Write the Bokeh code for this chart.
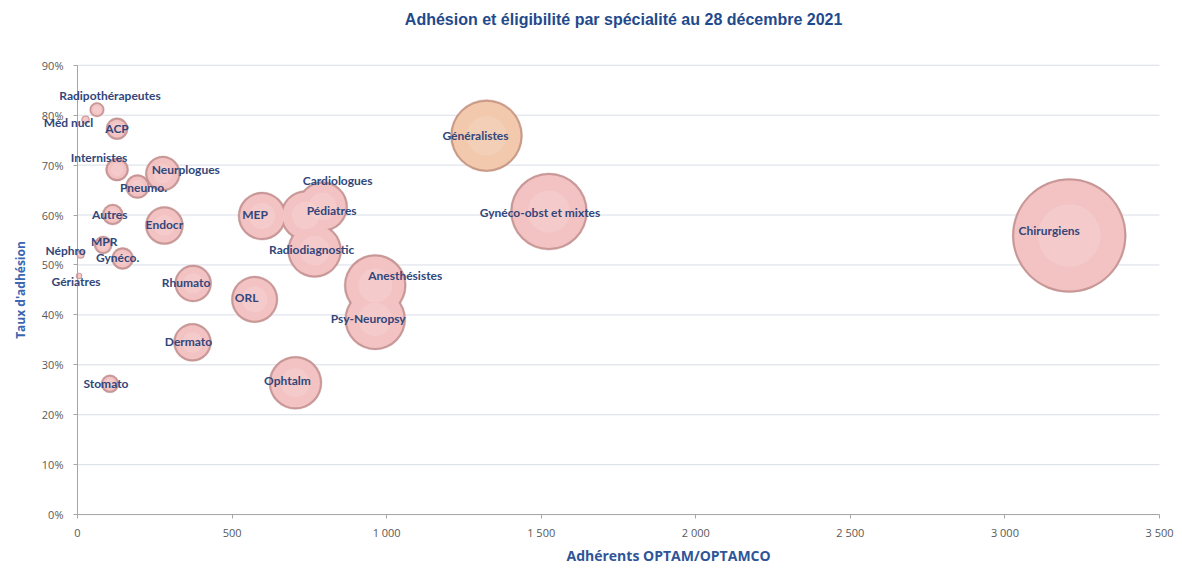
from bokeh.plotting import figure
from bokeh.models import ColumnDataSource, FixedTicker, Range1d, Title, LabelSet, Label
from bokeh.core.properties import value
from bokeh.embed import file_html
from bokeh.resources import INLINE
import math

# ---- data ----
specialites = ["Chirurgiens", "Gynéco-obst et mixtes", "Généralistes", "Anesthésistes",
               "Psy-Neuropsy", "Cardiologues", "Pédiatres", "Radiodiagnostic", "MEP", "ORL",
               "Ophtalm", "Rhumato", "Dermato", "Endocr", "Neurplogues", "Pneumo.",
               "Internistes", "Autres", "ACP", "Radipothérapeutes", "Méd nucl", "MPR",
               "Gynéco.", "Néphro", "Gériatres", "Stomato"]
adherents = [3208, 1525, 1323, 963, 963, 793, 738, 767, 597, 573,
             705, 374, 372, 281, 276, 194, 128, 114, 128, 63,
             26, 83, 146, 10, 5, 105]
taux_adhesion = [55.9, 60.7, 75.9, 45.9, 39.1, 61.7, 59.9, 52.9, 59.8, 43.1,
                 26.4, 46.3, 34.5, 57.9, 68.3, 65.7, 69.1, 60.1, 77.3, 81.1,
                 79.1, 54.0, 51.3, 52.1, 47.8, 26.2]
eligibles = [5700, 2600, 2274, 1686, 1632, 1096, 1096, 1279, 1010, 952,
             1232, 600, 633, 640, 537, 253, 232, 193, 212, 93,
             28, 142, 212, 28, 16, 142]

x_ticks = [0, 500, 1000, 1500, 2000, 2500, 3000, 3500]
x_tick_labels = ["0", "500", "1 000", "1 500", "2 000", "2 500", "3 000", "3 500"]
y_ticks = [0, 10, 20, 30, 40, 50, 60, 70, 80, 90]
y_tick_labels = ["0%", "10%", "20%", "30%", "40%", "50%", "60%", "70%", "80%", "90%"]

title_text = "Adhésion  et éligibilité  par spécialité  au 28 décembre  2021"
x_title = "Adhérents OPTAM/OPTAMCO"
y_title = "Taux d'adhésion"

# ---- layout (pixels) ----
W, H = 1174, 565
AX_LEFT, AX_RIGHT = 77, 1159      # pixel position of x = 0 and x = max
AX_TOP, AX_BOTTOM = 65, 516       # pixel position of y = max and y = 0
FRAME_BOTTOM = H - 21             # room below for the x title
TITLE_CX, TITLE_CY = 632, 21
XTITLE_LEFT = 566

# label placement (screen px offsets, y positive = down)
label_dx = [-20, -9, -11, 30, -7, 15, 26, -3, -7, -8, -8, -7, -4, 0, 23, 6, -18, -3, 0, 13, -17, 1, -5, -15, -3, -4]
label_dy = [-5, 1, 0, -10, -1, -26, -5, -1, -2, -2, -2, -1, -1, -1, -4, 1, -12, 0, 0, -14, 3, -3, -1, -4, 6, 0]

xmin, xmax = x_ticks[0], x_ticks[-1]
ymin, ymax = y_ticks[0], y_ticks[-1]
xpp = (xmax - xmin) / (AX_RIGHT - AX_LEFT)
ypp = (ymax - ymin) / (AX_BOTTOM - AX_TOP)
x_start = xmin - AX_LEFT * xpp
x_end = xmax + (W - AX_RIGHT) * xpp
y_end = ymax + AX_TOP * ypp
y_start = ymin - (FRAME_BOTTOM - AX_BOTTOM) * ypp

MAX_DIAM = 114.0
vmax = max(eligibles)
diam = [MAX_DIAM * math.sqrt(v / vmax) for v in eligibles]
edge = ["#CC9C86" if n == "Généralistes" else "#CB9898" for n in specialites]
body = ["#F3C9AE" if n == "Généralistes" else "#F3C3C3" for n in specialites]

src = ColumnDataSource(dict(
    x=adherents, y=taux_adhesion, name=specialites,
    d=diam, d_in=[max(d - 4, d * 0.78) for d in diam],
    d_hi=[d * 0.55 for d in diam],
    edge=edge, body=body, dx=label_dx, dy=[-v for v in label_dy],
))

p = figure(width=W, height=H, x_range=Range1d(x_start, x_end), y_range=Range1d(y_start, y_end),
           output_backend="svg", toolbar_location=None,
           min_border_left=0, min_border_right=0, min_border_top=0,
           min_border_bottom=H - FRAME_BOTTOM)
p.outline_line_color = None
p.background_fill_color = "white"
p.border_fill_color = "white"
p.xgrid.visible = False
p.ygrid.visible = False

# horizontal gridlines from the y ticks, spanning the x tick extent
p.segment(x0=[xmin] * len(y_ticks), x1=[xmax] * len(y_ticks), y0=y_ticks, y1=y_ticks,
          line_color="#D8DDE6", line_width=1, level="underlay")

# axes (fixed at the origin so that they sit inside the frame)
p.xaxis.ticker = FixedTicker(ticks=x_ticks)
p.xaxis.major_label_overrides = {t: l for t, l in zip(x_ticks, x_tick_labels)}
p.xaxis.bounds = (xmin, xmax)
p.xaxis.fixed_location = ymin
p.yaxis.ticker = FixedTicker(ticks=y_ticks)
p.yaxis.major_label_overrides = {t: l for t, l in zip(y_ticks, y_tick_labels)}
p.yaxis.bounds = (ymin, ymax)
p.yaxis.fixed_location = xmin
for ax in (p.xaxis, p.yaxis):
    ax.axis_line_color = "#A6A6A6"
    ax.major_tick_line_color = "#A6A6A6"
    ax.major_tick_out = 4
    ax.major_tick_in = 0
    ax.minor_tick_line_color = None
    ax.major_label_text_font = "Open Sans"
    ax.major_label_text_font_size = "11px"
    ax.major_label_text_color = "#595959"
    ax.axis_label_text_font = "Open Sans"
    ax.axis_label_text_font_style = "bold"
    ax.axis_label_text_color = "#3B66B0"
p.xaxis.major_label_standoff = 6
p.yaxis.major_label_standoff = 10
p.yaxis.axis_label = y_title
p.yaxis.axis_label_text_font_size = "12px"
p.yaxis.axis_label_standoff = 10

# x-axis title, shifted right as in the original
p.add_layout(Title(text=x_title, align="left", offset=XTITLE_LEFT, standoff=2,
                   text_font="Open Sans", text_font_style="bold",
                   text_font_size="14px", text_color="#2F5597"), "below")

# chart title (screen units, relative to the frame bottom-left)
p.add_layout(Label(x=TITLE_CX, y=FRAME_BOTTOM - TITLE_CY, x_units="screen", y_units="screen",
                   text=title_text, text_align="center", text_baseline="middle",
                   text_font="Liberation Sans", text_font_style="bold",
                   text_font_size="16px", text_color="#1F4A8C"))

# bubbles: edge, body, soft highlight
p.scatter(x="x", y="y", size="d", source=src, marker="circle",
          fill_color="edge", line_color="#B58585", line_width=0.6, line_alpha=0.6)
p.scatter(x="x", y="y", size="d_in", source=src, marker="circle",
          fill_color="body", line_color=None)
p.scatter(x="x", y="y", size="d_hi", source=src, marker="circle",
          fill_color="white", fill_alpha=0.12, line_color=None)

labels = LabelSet(x="x", y="y", text="name", x_offset="dx", y_offset="dy", source=src,
                  text_align="center", text_baseline="middle",
                  text_font=value("Lato"), text_font_style="bold", text_font_size="12px",
                  text_color="#32467A")
p.add_layout(labels)

open("out.html", "w").write(file_html(p, INLINE))
